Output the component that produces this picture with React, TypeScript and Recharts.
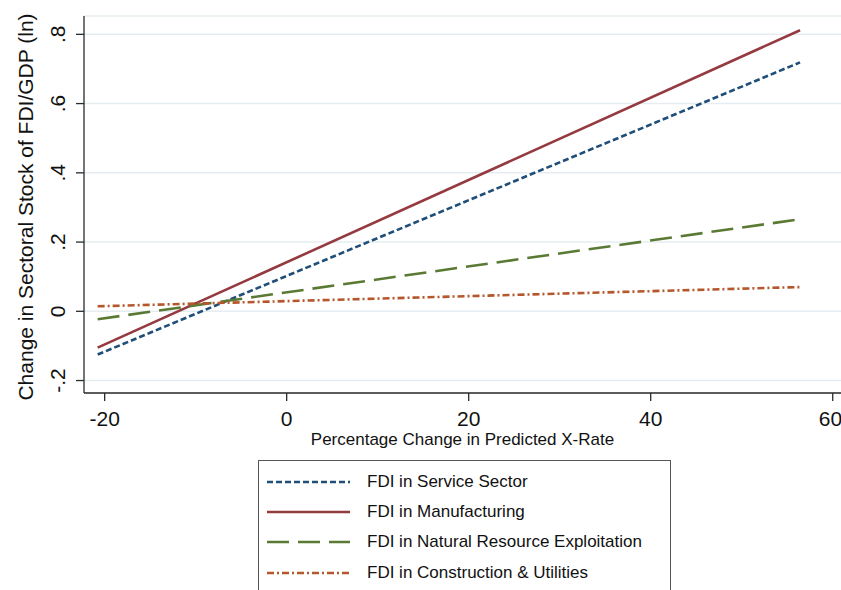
import { CartesianGrid, Label, Line, LineChart, XAxis, YAxis } from 'recharts';

const xValues = [-20.77, 56.41];
const serviceSector = [-0.125, 0.719];
const manufacturing = [-0.105, 0.812];
const naturalResource = [-0.023, 0.266];
const construction = [0.0145, 0.07];

const xTicks = [-20, 0, 20, 40, 60];
const yTicks = [-0.2, 0, 0.2, 0.4, 0.6, 0.8];
const yTickLabels = ['-.2', '0', '.2', '.4', '.6', '.8'];

const SERIES = [
  { key: 'service', name: 'FDI in Service Sector', color: '#1f4e79', dash: '6 3' },
  { key: 'manufacturing', name: 'FDI in Manufacturing', color: '#943a40', dash: undefined },
  { key: 'natural', name: 'FDI in Natural Resource Exploitation', color: '#5a7a34', dash: '22 9' },
  { key: 'construction', name: 'FDI in Construction & Utilities', color: '#b5562b', dash: '7 3 2 3' },
];

const rows = xValues.map((x, i) => ({
  x,
  service: serviceSector[i],
  manufacturing: manufacturing[i],
  natural: naturalResource[i],
  construction: construction[i],
}));

const FONT = '"Liberation Sans", Arial, sans-serif';
const AXIS = '#2b2b2b';

function YTick(props: any) {
  const { x, y, payload } = props;
  const idx = yTicks.indexOf(payload.value);
  const bx = x - 11;
  return (
    <text
      x={bx}
      y={y}
      transform={`rotate(-90 ${bx} ${y})`}
      textAnchor="middle"
      fontSize={21}
      fontFamily={FONT}
      fill="#111"
    >
      {idx >= 0 ? yTickLabels[idx] : payload.value}
    </text>
  );
}

export default function App() {
  return (
    <div style={{ position: 'relative', width: 841, height: 590, overflow: 'hidden', background: '#fff' }}>
      <style>{`body { margin: 0; overflow: hidden; }`}</style>
      <LineChart
        width={841}
        height={590}
        data={rows}
        margin={{ top: 16, right: 0, left: 0, bottom: 142 }}
        style={{ fontFamily: FONT }}
      >
        <CartesianGrid vertical={false} stroke="#e6edf1" strokeWidth={1.5} />
        <XAxis
          dataKey="x"
          type="number"
          domain={[-22.27, 60.91]}
          ticks={xTicks}
          allowDataOverflow
          height={55}
          tickSize={8}
          tickMargin={10}
          stroke={AXIS}
          strokeWidth={1.3}
          tick={{ fontSize: 21, fill: '#111', fontFamily: FONT }}
        >
          <Label
            content={() => (
              <text x={462.5} y={445} textAnchor="middle" fontSize={17} fontFamily={FONT} fill="#111">
                Percentage Change in Predicted X-Rate
              </text>
            )}
          />
        </XAxis>
        <YAxis
          type="number"
          domain={[-0.236, 0.853]}
          ticks={yTicks}
          allowDataOverflow
          width={84}
          tickSize={8}
          tickMargin={0}
          stroke={AXIS}
          strokeWidth={1.3}
          tick={<YTick />}
        >
          <Label
            content={() => (
              <text
                x={33}
                y={207}
                transform="rotate(-90 33 207)"
                textAnchor="middle"
                fontSize={21}
                fontFamily={FONT}
                fill="#111"
              >
                Change in Sectoral Stock of FDI/GDP (ln)
              </text>
            )}
          />
        </YAxis>
        {SERIES.map((s) => (
          <Line
            key={s.key}
            type="linear"
            dataKey={s.key}
            name={s.name}
            stroke={s.color}
            strokeWidth={2.6}
            strokeDasharray={s.dash}
            dot={false}
            activeDot={false}
            isAnimationActive={false}
          />
        ))}
      </LineChart>
      <div
        style={{
          position: 'absolute',
          left: 258,
          top: 460,
          width: 413,
          height: 200,
          border: '1px solid #555',
          background: '#fff',
          boxSizing: 'border-box',
          fontFamily: FONT,
        }}
      >
        {SERIES.map((s, i) => (
          <div
            key={s.key}
            style={{ position: 'absolute', left: 0, top: 21 + i * 30.2 - 15, height: 30, width: '100%' }}
          >
            <svg width={100} height={30} style={{ position: 'absolute', left: 0, top: 0 }}>
              <line x1={8} x2={91} y1={15} y2={15} stroke={s.color} strokeWidth={2.6} strokeDasharray={s.dash} />
            </svg>
            <span
              style={{
                position: 'absolute',
                left: 108,
                top: 0,
                lineHeight: '30px',
                fontSize: 17,
                color: '#111',
                whiteSpace: 'nowrap',
              }}
            >
              {s.name}
            </span>
          </div>
        ))}
      </div>
    </div>
  );
}
